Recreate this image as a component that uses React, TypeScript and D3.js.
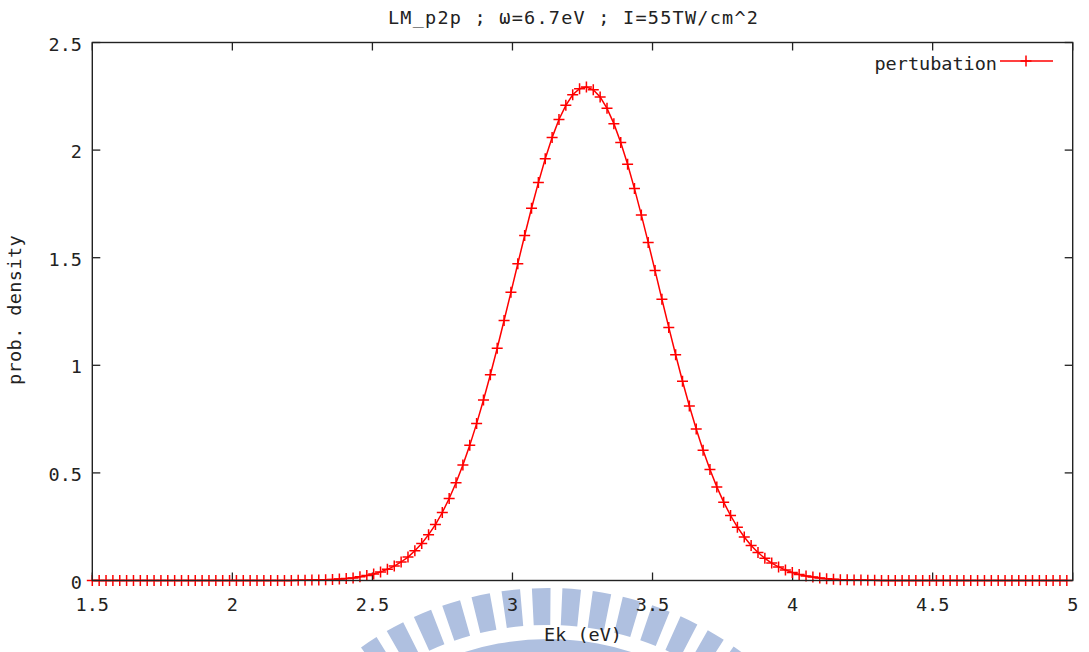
import React from 'react';
import * as d3 from 'd3';

// Kinetic energy grid (eV)
const ENERGY: number[] = [
  1.5, 1.5245, 1.549, 1.5735, 1.598, 1.6225, 1.647, 1.6715, 1.696, 1.7205,
  1.745, 1.7695, 1.794, 1.8185, 1.843, 1.8675, 1.892, 1.9165, 1.941, 1.9655,
  1.99, 2.0145, 2.039, 2.0635, 2.088, 2.1125, 2.137, 2.1615, 2.186, 2.2105,
  2.235, 2.2595, 2.284, 2.3085, 2.333, 2.3575, 2.382, 2.4065, 2.431, 2.4555,
  2.48, 2.5045, 2.529, 2.5535, 2.578, 2.6025, 2.627, 2.6515, 2.676, 2.7005,
  2.725, 2.7495, 2.774, 2.7985, 2.823, 2.8475, 2.872, 2.8965, 2.921, 2.9455,
  2.97, 2.9945, 3.019, 3.0435, 3.068, 3.0925, 3.117, 3.1415, 3.166, 3.1905,
  3.215, 3.2395, 3.264, 3.2885, 3.313, 3.3375, 3.362, 3.3865, 3.411, 3.4355,
  3.46, 3.4845, 3.509, 3.5335, 3.558, 3.5825, 3.607, 3.6315, 3.656, 3.6805,
  3.705, 3.7295, 3.754, 3.7785, 3.803, 3.8275, 3.852, 3.8765, 3.901, 3.9255,
  3.95, 3.9745, 3.999, 4.0235, 4.048, 4.0725, 4.097, 4.1215, 4.146, 4.1705,
  4.195, 4.2195, 4.244, 4.2685, 4.293, 4.3175, 4.342, 4.3665, 4.391, 4.4155,
  4.44, 4.4645, 4.489, 4.5135, 4.538, 4.5625, 4.587, 4.6115, 4.636, 4.6605,
  4.685, 4.7095, 4.734, 4.7585, 4.783, 4.8075, 4.832, 4.8565, 4.881, 4.9055,
  4.93, 4.9545, 4.979,
];

// Probability density
const DENSITY: number[] = [
  0, 0, 0, 0, 0, 0, 0, 0, 0, 0,
  0, 0, 0, 0, 0, 0, 0, 0, 0, 0,
  0, 0, 0, 0, 0, 0, 0, 0, 0, 0,
  0.001, 0.001, 0.002, 0.002, 0.003, 0.005, 0.007, 0.009, 0.012, 0.017,
  0.023, 0.030, 0.040, 0.052, 0.067, 0.086, 0.109, 0.138, 0.172, 0.213,
  0.260, 0.316, 0.381, 0.454, 0.537, 0.628, 0.729, 0.839, 0.956, 1.079,
  1.208, 1.339, 1.472, 1.603, 1.730, 1.849, 1.960, 2.058, 2.142, 2.208,
  2.257, 2.285, 2.293, 2.280, 2.247, 2.194, 2.123, 2.035, 1.934, 1.821,
  1.699, 1.571, 1.440, 1.307, 1.176, 1.049, 0.926, 0.811, 0.704, 0.605,
  0.516, 0.435, 0.364, 0.302, 0.248, 0.202, 0.163, 0.130, 0.103, 0.081,
  0.063, 0.049, 0.037, 0.028, 0.021, 0.016, 0.012, 0.008, 0.006, 0.004,
  0.003, 0.002, 0.002, 0.001, 0.001, 0, 0, 0, 0, 0,
  0, 0, 0, 0, 0, 0, 0, 0, 0, 0,
  0, 0, 0, 0, 0, 0, 0, 0, 0, 0,
  0, 0, 0,
];

const X_TICKS = [1.5, 2, 2.5, 3, 3.5, 4, 4.5, 5];
const X_TICK_LABELS = ['1.5', '2', '2.5', '3', '3.5', '4', '4.5', '5'];
const Y_TICKS = [0, 0.5, 1, 1.5, 2, 2.5];
const Y_TICK_LABELS = ['0', '0.5', '1', '1.5', '2', '2.5'];

const TITLE = 'LM_p2p ; \u03c9=6.7eV ; I=55TW/cm^2';
const X_LABEL = 'Ek (eV)';
const Y_LABEL = 'prob. density';
const SERIES_NAME = 'pertubation';

// decorative watermark stripe angles (degrees)
const WATERMARK_ANGLES = [-33.6, -28.2, -22.8, -17.4, -12, -6.6, -1.2, 4.2, 9.6, 15, 20.4, 25.8, 31.2, 36.6];

const FONT = '"DejaVu Sans Mono", "Liberation Mono", monospace';

export default function App() {
  const W = 1089;
  const H = 652;
  const L = 92.3;
  const R = 1072.7;
  const T = 42.5;
  const B = 580.5;

  const x = d3.scaleLinear().domain([1.5, 5]).range([L, R]);
  const y = d3.scaleLinear().domain([0, 2.5]).range([B, T]);

  const pts: [number, number][] = ENERGY.map((e, i) => [e, DENSITY[i]]);
  const line = d3
    .line<[number, number]>()
    .x((d) => x(d[0]))
    .y((d) => y(d[1]));

  const wmCx = 548;
  const wmCy = 912;
  const stripeArc = d3.arc();
  const rad = Math.PI / 180;
  const wmColor = '#afc0e0';

  const tickLen = 8;
  const plus = 'M-5.5,0H5.5M0,-5.5V5.5';
  const fs = 18.5;

  return (
    <svg
      width={W}
      height={H}
      style={{ position: 'absolute', left: 0, top: 0, background: '#fff' }}
      fontFamily={FONT}
    >
      <rect x={0} y={0} width={W} height={H} fill="#fff" />

      {/* watermark */}
      <g fill={wmColor}>
        {WATERMARK_ANGLES.map((a, i) => (
          <path
            key={i}
            transform={`translate(${wmCx},${wmCy})`}
            d={
              stripeArc({
                innerRadius: 287,
                outerRadius: 324,
                startAngle: (a - 1.65) * rad,
                endAngle: (a + 1.65) * rad,
              }) as string
            }
          />
        ))}
        <path
          transform={`translate(${wmCx},${wmCy})`}
          d={
            stripeArc({
              innerRadius: 200,
              outerRadius: 273,
              startAngle: -42 * rad,
              endAngle: 42 * rad,
            }) as string
          }
        />
      </g>

      {/* title */}
      <text x={573} y={24} textAnchor="middle" fontSize={fs} fill="#222" textLength={370} lengthAdjust="spacing">
        {TITLE}
      </text>

      {/* ticks */}
      <g stroke="#222" strokeWidth={1.3}>
        {X_TICKS.map((t, i) => (
          <g key={'xt' + i}>
            <line x1={x(t)} x2={x(t)} y1={B} y2={B - tickLen} />
            <line x1={x(t)} x2={x(t)} y1={T} y2={T + tickLen} />
          </g>
        ))}
        {Y_TICKS.map((t, i) => (
          <g key={'yt' + i}>
            <line x1={L} x2={L + tickLen} y1={y(t)} y2={y(t)} />
            <line x1={R} x2={R - tickLen} y1={y(t)} y2={y(t)} />
          </g>
        ))}
      </g>

      {/* tick labels */}
      <g fontSize={fs} fill="#222">
        {X_TICKS.map((t, i) => (
          <text key={'xl' + i} x={x(t)} y={611} textAnchor="middle">
            {X_TICK_LABELS[i]}
          </text>
        ))}
        {Y_TICKS.map((t, i) => (
          <text key={'yl' + i} x={82} y={y(t) + 8} textAnchor="end">
            {Y_TICK_LABELS[i]}
          </text>
        ))}
      </g>

      {/* axis labels */}
      <text x={583} y={641} textAnchor="middle" fontSize={fs} fill="#222">
        {X_LABEL}
      </text>
      <text
        transform={`translate(21,310) rotate(-90)`}
        textAnchor="middle"
        fontSize={fs}
        fill="#222"
        letterSpacing={0.4}
      >
        {Y_LABEL}
      </text>

      {/* series */}
      <path d={line(pts) as string} fill="none" stroke="#ff0000" strokeWidth={1.5} />
      <g stroke="#ff0000" strokeWidth={1.5} fill="none">
        {pts.map((d, i) => (
          <path key={i} d={plus} transform={`translate(${x(d[0])},${y(d[1])})`} />
        ))}
      </g>

      {/* legend */}
      <text x={997} y={70} textAnchor="end" fontSize={fs} fill="#222">
        {SERIES_NAME}
      </text>
      <line x1={1000} x2={1053} y1={61} y2={61} stroke="#ff0000" strokeWidth={1.5} />
      <path d={plus} transform="translate(1026,61)" stroke="#ff0000" strokeWidth={1.5} fill="none" />

      {/* frame */}
      <rect x={L} y={T} width={R - L} height={B - T} fill="none" stroke="#222" strokeWidth={1.4} />
    </svg>
  );
}
